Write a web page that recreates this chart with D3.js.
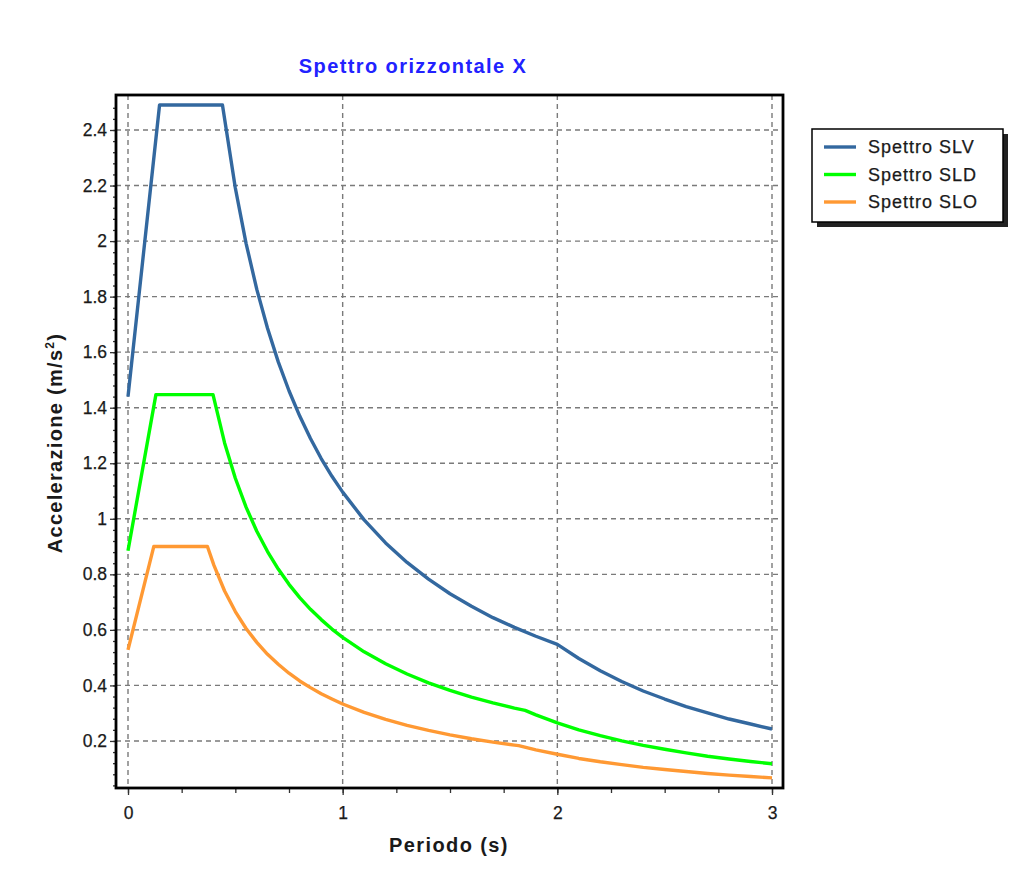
<!DOCTYPE html>
<html>
<head>
<meta charset="utf-8">
<script src="https://cdn.jsdelivr.net/npm/d3@7"></script>
<style>
  html, body { margin: 0; padding: 0; background: #fff; }
  svg { display: block; font-family: Arial, "Liberation Sans", sans-serif; }
</style>
</head>
<body>
<svg id="chart" width="1034" height="886"></svg>
<script>
// Response spectra (period in s, acceleration in m/s²)
const periodSLV = [0, 0.147, 0.44, 0.5, 0.55, 0.6, 0.65, 0.7, 0.75, 0.8, 0.85, 0.9, 0.95,
  1.0, 1.1, 1.2, 1.3, 1.4, 1.5, 1.6, 1.7, 1.8, 1.9, 2.0, 2.1, 2.2, 2.3, 2.4, 2.5, 2.6, 2.7, 2.8, 2.9, 3.0];
const accSLV = [1.44, 2.49, 2.49, 2.191, 1.992, 1.826, 1.686, 1.565, 1.461, 1.370, 1.289, 1.217, 1.153,
  1.096, 0.996, 0.913, 0.843, 0.783, 0.730, 0.685, 0.644, 0.609, 0.577, 0.548, 0.497, 0.453, 0.414, 0.380, 0.351, 0.324, 0.301, 0.279, 0.261, 0.243];

const periodSLD = [0, 0.13, 0.396, 0.45, 0.5, 0.55, 0.6, 0.65, 0.7, 0.75, 0.8, 0.85, 0.9, 0.95,
  1.0, 1.1, 1.2, 1.3, 1.4, 1.5, 1.6, 1.7, 1.8, 1.85, 1.9, 2.0, 2.1, 2.2, 2.3, 2.4, 2.5, 2.6, 2.7, 2.8, 2.9, 3.0];
const accSLD = [0.885, 1.447, 1.447, 1.273, 1.146, 1.042, 0.955, 0.882, 0.819, 0.764, 0.716, 0.674, 0.637, 0.603,
  0.573, 0.521, 0.478, 0.441, 0.409, 0.382, 0.358, 0.337, 0.318, 0.310, 0.294, 0.265, 0.240, 0.219, 0.200, 0.184, 0.170, 0.157, 0.145, 0.135, 0.126, 0.118];

const periodSLO = [0, 0.12, 0.37, 0.4, 0.45, 0.5, 0.55, 0.6, 0.65, 0.7, 0.75, 0.8, 0.85, 0.9, 0.95,
  1.0, 1.1, 1.2, 1.3, 1.4, 1.5, 1.6, 1.7, 1.8, 1.82, 1.9, 2.0, 2.1, 2.2, 2.3, 2.4, 2.5, 2.6, 2.7, 2.8, 2.9, 3.0];
const accSLO = [0.528, 0.9, 0.9, 0.833, 0.740, 0.666, 0.605, 0.555, 0.512, 0.476, 0.444, 0.416, 0.392, 0.370, 0.351,
  0.333, 0.303, 0.278, 0.256, 0.238, 0.222, 0.208, 0.196, 0.185, 0.183, 0.168, 0.152, 0.137, 0.125, 0.115, 0.105, 0.097, 0.090, 0.083, 0.077, 0.072, 0.067];

const seriesNames = ["Spettro SLV", "Spettro SLD", "Spettro SLO"];
const seriesColors = ["#33689f", "#00ff00", "#ff9933"];

const xTicks = [0, 1, 2, 3];
const yTicks = [0.2, 0.4, 0.6, 0.8, 1, 1.2, 1.4, 1.6, 1.8, 2, 2.2, 2.4];
const xMinorTicks = d3.range(0, 3.001, 0.25);
const yMinorTicks = d3.range(0.04, 2.52, 0.04);

const titleText = "Spettro orizzontale X";
const xLabel = "Periodo (s)";

// Plot frame
const frame = { left: 116, right: 783, top: 95, bottom: 788 };

const x = d3.scaleLinear().domain([0, 3]).range([128, 772]);
const y = d3.scaleLinear().domain([0, 2.4]).range([796.5, 130]);

const svg = d3.select("#chart");

// Grid
const grid = svg.append("g");
grid.selectAll("line.gx").data(xTicks).join("line")
  .attr("x1", d => x(d)).attr("x2", d => x(d))
  .attr("y1", frame.top).attr("y2", frame.bottom)
  .attr("stroke", "#7a7a7a").attr("stroke-width", 1.4).attr("stroke-dasharray", "5,4");
grid.selectAll("line.gy").data(yTicks).join("line")
  .attr("y1", d => y(d)).attr("y2", d => y(d))
  .attr("x1", frame.left).attr("x2", frame.right)
  .attr("stroke", "#7a7a7a").attr("stroke-width", 1.4).attr("stroke-dasharray", "5,4");

// Axes
const yAxis = d3.axisLeft(y).tickValues(yTicks).tickSize(6).tickPadding(3)
  .tickFormat(d => String(+d.toFixed(1)));
const gy = svg.append("g").attr("transform", `translate(${frame.left},0)`).call(yAxis);
const yAxisMinor = d3.axisLeft(y).tickValues(yMinorTicks).tickSize(3).tickFormat("");
const gyMinor = svg.append("g").attr("transform", `translate(${frame.left},0)`).call(yAxisMinor);

const xAxis = d3.axisBottom(x).tickValues(xTicks).tickSize(7).tickPadding(12)
  .tickFormat(d3.format("d"));
const gx = svg.append("g").attr("transform", `translate(0,${frame.bottom})`).call(xAxis);
const xAxisMinor = d3.axisBottom(x).tickValues(xMinorTicks).tickSize(5).tickFormat("");
const gxMinor = svg.append("g").attr("transform", `translate(0,${frame.bottom})`).call(xAxisMinor);

[gy, gyMinor, gx, gxMinor].forEach(g => {
  g.select(".domain").remove();
  g.selectAll(".tick line").attr("stroke", "#333").attr("stroke-width", 1.3);
  g.selectAll("text").attr("font-size", 17.5).attr("fill", "#1a1a1a")
    .attr("stroke", "#1a1a1a").attr("stroke-width", 0.25)
    .attr("font-family", "Arial, 'Liberation Sans', sans-serif");
});

// Spectrum curves
const line = d3.line().x(d => x(d[0])).y(d => y(d[1]));
const curves = [
  d3.zip(periodSLV, accSLV),
  d3.zip(periodSLD, accSLD),
  d3.zip(periodSLO, accSLO)
];
svg.append("g").selectAll("path").data(curves).join("path")
  .attr("d", line)
  .attr("fill", "none")
  .attr("stroke", (d, i) => seriesColors[i])
  .attr("stroke-width", 3.4)
  .attr("stroke-linejoin", "round");

// Frame
svg.append("rect")
  .attr("x", frame.left).attr("y", frame.top)
  .attr("width", frame.right - frame.left).attr("height", frame.bottom - frame.top)
  .attr("fill", "none").attr("stroke", "#000").attr("stroke-width", 2.8);

// Title
svg.append("text")
  .attr("x", 413).attr("y", 73)
  .attr("text-anchor", "middle")
  .attr("font-size", 20).attr("font-weight", "bold")
  .attr("letter-spacing", 1.4)
  .attr("fill", "#2222ff")
  .text(titleText);

// Axis titles
svg.append("text")
  .attr("x", 449).attr("y", 852)
  .attr("text-anchor", "middle")
  .attr("font-size", 20).attr("font-weight", "bold")
  .attr("letter-spacing", 1.4)
  .attr("fill", "#1a1a1a")
  .text(xLabel);

const yl = svg.append("text")
  .attr("transform", "translate(62,443) rotate(-90)")
  .attr("text-anchor", "middle")
  .attr("font-size", 20).attr("font-weight", "bold")
  .attr("letter-spacing", 1.3)
  .attr("fill", "#1a1a1a");
yl.append("tspan").text("Accelerazione (m/s");
yl.append("tspan").attr("font-size", 12).attr("dy", -8).text("2");
yl.append("tspan").attr("dy", 8).text(")");

// Legend
const legend = { x: 812, y: 129, w: 191, h: 93 };
svg.append("rect")
  .attr("x", legend.x + 5).attr("y", legend.y + 5)
  .attr("width", legend.w).attr("height", legend.h)
  .attr("fill", "#222");
svg.append("rect")
  .attr("x", legend.x).attr("y", legend.y)
  .attr("width", legend.w).attr("height", legend.h)
  .attr("fill", "#fff").attr("stroke", "#000").attr("stroke-width", 1.5);
const items = svg.append("g").selectAll("g").data(seriesNames).join("g")
  .attr("transform", (d, i) => `translate(${legend.x},${legend.y + 18 + i * 27.5})`);
items.append("line")
  .attr("x1", 12).attr("x2", 44).attr("y1", 0).attr("y2", 0)
  .attr("stroke", (d, i) => seriesColors[i]).attr("stroke-width", 3.4);
items.append("text")
  .attr("x", 56).attr("y", 6)
  .attr("font-size", 18).attr("letter-spacing", 1)
  .attr("fill", "#1a1a1a")
  .attr("stroke", "#1a1a1a").attr("stroke-width", 0.25)
  .text(d => d);
</script>
</body>
</html>
